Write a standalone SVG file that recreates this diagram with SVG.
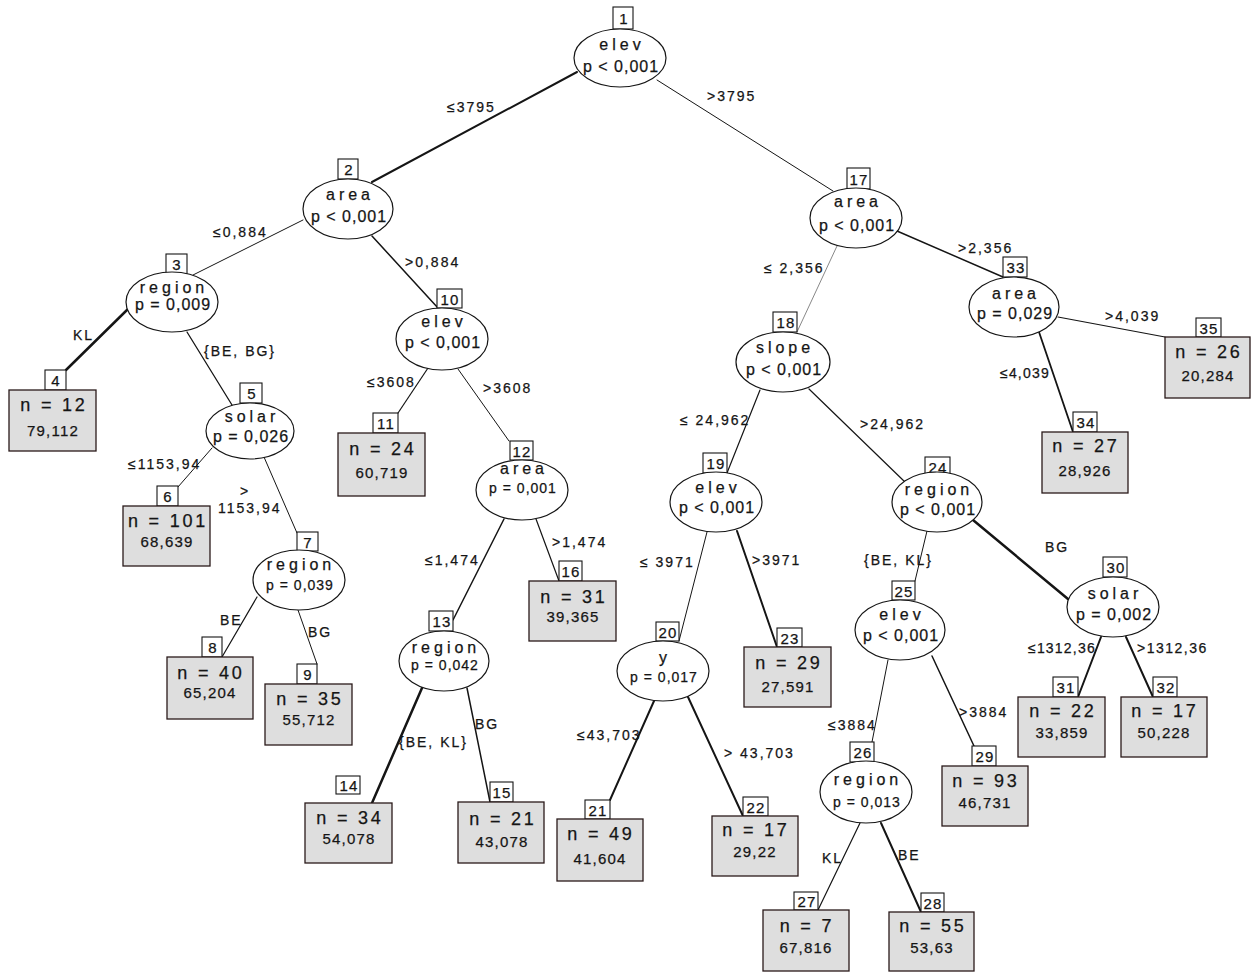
<svg xmlns="http://www.w3.org/2000/svg" width="1252" height="972" viewBox="0 0 1252 972">
<style>
text{font-family:"Liberation Sans",Arial,sans-serif;fill:#151515;stroke:#151515;stroke-width:0.25}
.nm{font-size:16px;letter-spacing:4px;text-anchor:middle}
.pv{font-size:16px;letter-spacing:1px;text-anchor:middle}
.pvs{font-size:14px;letter-spacing:1px;text-anchor:middle}
.id{font-size:15px;letter-spacing:1.2px;text-anchor:middle}
.tn{font-size:18px;letter-spacing:2.8px;text-anchor:middle}
.tv{font-size:15px;letter-spacing:1.2px;text-anchor:middle}
.lb{font-size:14px;letter-spacing:2px}
ellipse{fill:#fff;stroke:#151515;stroke-width:1.2}
.bx{fill:#fff;stroke:#151515;stroke-width:1.1}
.tm{fill:#dedede;stroke:#2a1a1a;stroke-width:1.3}
#edges line{stroke:#151515;stroke-linecap:round}
</style>
<rect width="1252" height="972" fill="#fff"/>
<g id="edges">
<line x1="577" y1="72" x2="372" y2="182" stroke-width="2"/>
<line x1="657" y1="80" x2="833" y2="191" stroke-width="1"/>
<line x1="303" y1="220" x2="193" y2="275" stroke-width="1"/>
<line x1="372" y1="236" x2="438" y2="308" stroke-width="1.5"/>
<line x1="128" y1="309" x2="66" y2="370" stroke-width="2.5"/>
<line x1="187" y1="332" x2="232" y2="405" stroke-width="1.3"/>
<line x1="212" y1="448" x2="178" y2="487" stroke-width="1"/>
<line x1="264" y1="457" x2="297" y2="533" stroke-width="1"/>
<line x1="257" y1="597" x2="222" y2="657" stroke-width="1.2"/>
<line x1="298" y1="610" x2="317" y2="664" stroke-width="1"/>
<line x1="428" y1="368" x2="398" y2="413" stroke-width="1.2"/>
<line x1="458" y1="369" x2="509" y2="441" stroke-width="1"/>
<line x1="504" y1="519" x2="453" y2="620" stroke-width="1.5"/>
<line x1="536" y1="519" x2="559" y2="581" stroke-width="1.2"/>
<line x1="422" y1="688" x2="372" y2="803" stroke-width="2.5"/>
<line x1="467" y1="688" x2="490" y2="802" stroke-width="1.5"/>
<line x1="837" y1="246" x2="797" y2="332" stroke-width="1" style="stroke:#888"/>
<line x1="897" y1="231" x2="1003" y2="277" stroke-width="1.5"/>
<line x1="760" y1="390" x2="727" y2="473" stroke-width="1.2"/>
<line x1="809" y1="389" x2="906" y2="483" stroke-width="1.2"/>
<line x1="707" y1="532" x2="679" y2="641" stroke-width="1"/>
<line x1="737" y1="531" x2="777" y2="647" stroke-width="2"/>
<line x1="654" y1="701" x2="610" y2="800" stroke-width="2"/>
<line x1="688" y1="697" x2="743" y2="816" stroke-width="2"/>
<line x1="927" y1="531" x2="915" y2="581" stroke-width="1"/>
<line x1="973" y1="520" x2="1068" y2="599" stroke-width="2.5"/>
<line x1="888" y1="660" x2="872" y2="742" stroke-width="1"/>
<line x1="932" y1="656" x2="974" y2="746" stroke-width="1.5"/>
<line x1="860" y1="823" x2="818" y2="910" stroke-width="1.2"/>
<line x1="881" y1="823" x2="921" y2="912" stroke-width="2"/>
<line x1="1101" y1="637" x2="1078" y2="697" stroke-width="2"/>
<line x1="1126" y1="637" x2="1153" y2="697" stroke-width="2"/>
<line x1="1039" y1="332" x2="1073" y2="432" stroke-width="1.8"/>
<line x1="1058" y1="317" x2="1165" y2="337" stroke-width="1.2"/>
</g>
<g id="edge-labels">
<text class="lb" x="447" y="112">≤3795</text>
<text class="lb" x="707" y="101">&gt;3795</text>
<text class="lb" x="213" y="237">≤0,884</text>
<text class="lb" x="405" y="267">&gt;0,884</text>
<text class="lb" x="73" y="340">KL</text>
<text class="lb" x="204" y="356">{BE, BG}</text>
<text class="lb" x="128" y="469">≤1153,94</text>
<text class="lb" x="240" y="496">&gt;</text>
<text class="lb" x="218" y="513">1153,94</text>
<text class="lb" x="220" y="625">BE</text>
<text class="lb" x="308" y="637">BG</text>
<text class="lb" x="367" y="387">≤3608</text>
<text class="lb" x="483" y="393">&gt;3608</text>
<text class="lb" x="425" y="565">≤1,474</text>
<text class="lb" x="552" y="547">&gt;1,474</text>
<text class="lb" x="399" y="747">{BE, KL}</text>
<text class="lb" x="475" y="729">BG</text>
<text class="lb" x="764" y="273">≤ 2,356</text>
<text class="lb" x="958" y="253">&gt;2,356</text>
<text class="lb" x="1105" y="321">&gt;4,039</text>
<text class="lb" x="1000" y="378" style="letter-spacing:1.2px">≤4,039</text>
<text class="lb" x="680" y="425">≤ 24,962</text>
<text class="lb" x="860" y="429">&gt;24,962</text>
<text class="lb" x="640" y="567">≤ 3971</text>
<text class="lb" x="752" y="565">&gt;3971</text>
<text class="lb" x="864" y="565">{BE, KL}</text>
<text class="lb" x="1045" y="552">BG</text>
<text class="lb" x="577" y="740">≤43,703</text>
<text class="lb" x="724" y="758">&gt; 43,703</text>
<text class="lb" x="1028" y="653" style="letter-spacing:1.2px">≤1312,36</text>
<text class="lb" x="1137" y="653" style="letter-spacing:1.5px">&gt;1312,36</text>
<text class="lb" x="828" y="730">≤3884</text>
<text class="lb" x="959" y="717">&gt;3884</text>
<text class="lb" x="822" y="863">KL</text>
<text class="lb" x="898" y="860">BE</text>
</g>
<g id="n1"><rect class="bx" x="613" y="7" width="20" height="22"/><text class="id" x="624" y="24">1</text><ellipse cx="620" cy="58" rx="46" ry="29"/><text class="nm" x="622" y="50">elev</text><text class="pv" x="621" y="72">p &lt; 0,001</text></g>
<g id="n2"><rect class="bx" x="338" y="159" width="20" height="20"/><text class="id" x="349" y="175">2</text><ellipse cx="348" cy="209" rx="45" ry="30"/><text class="nm" x="350" y="200">area</text><text class="pv" x="349" y="222">p &lt; 0,001</text></g>
<g id="n3"><rect class="bx" x="166" y="254" width="21" height="20"/><text class="id" x="177" y="270">3</text><ellipse cx="172" cy="302" rx="46" ry="30"/><text class="nm" x="174" y="293">region</text><text class="pv" x="173" y="310">p = 0,009</text></g>
<g id="n4"><rect class="bx" x="45" y="370" width="21" height="20"/><text class="id" x="56" y="386">4</text><rect class="tm" x="9" y="390" width="87" height="61"/><text class="tn" x="54" y="411">n = 12</text><text class="tv" x="53" y="436">79,112</text></g>
<g id="n5"><rect class="bx" x="240" y="383" width="22" height="20"/><text class="id" x="252" y="399">5</text><ellipse cx="250" cy="431" rx="44" ry="28"/><text class="nm" x="252" y="422">solar</text><text class="pv" x="251" y="442">p = 0,026</text></g>
<g id="n6"><rect class="bx" x="157" y="486" width="21" height="20"/><text class="id" x="168" y="502">6</text><rect class="tm" x="123" y="506" width="87" height="60"/><text class="tn" x="168" y="527">n = 101</text><text class="tv" x="167" y="547">68,639</text></g>
<g id="n7"><rect class="bx" x="297" y="532" width="21" height="19"/><text class="id" x="308" y="548">7</text><ellipse cx="299" cy="580" rx="46" ry="30"/><text class="nm" x="301" y="570">region</text><text class="pvs" x="300" y="590">p = 0,039</text></g>
<g id="n8"><rect class="bx" x="202" y="637" width="20" height="20"/><text class="id" x="213" y="653">8</text><rect class="tm" x="167" y="657" width="86" height="62"/><text class="tn" x="211" y="679">n = 40</text><text class="tv" x="210" y="698">65,204</text></g>
<g id="n9"><rect class="bx" x="297" y="664" width="20" height="20"/><text class="id" x="308" y="680">9</text><rect class="tm" x="265" y="684" width="87" height="61"/><text class="tn" x="310" y="705">n = 35</text><text class="tv" x="309" y="725">55,712</text></g>
<g id="n10"><rect class="bx" x="437" y="289" width="25" height="19"/><text class="id" x="450" y="305">10</text><ellipse cx="442" cy="339" rx="46" ry="31"/><text class="nm" x="444" y="327">elev</text><text class="pv" x="443" y="348">p &lt; 0,001</text></g>
<g id="n11"><rect class="bx" x="373" y="413" width="25" height="20"/><text class="id" x="386" y="429">11</text><rect class="tm" x="338" y="433" width="87" height="63"/><text class="tn" x="383" y="455">n = 24</text><text class="tv" x="382" y="478">60,719</text></g>
<g id="n12"><rect class="bx" x="510" y="441" width="23" height="19"/><text class="id" x="522" y="457">12</text><ellipse cx="522" cy="490" rx="46" ry="30"/><text class="nm" x="524" y="474">area</text><text class="pvs" x="523" y="493">p = 0,001</text></g>
<g id="n13"><rect class="bx" x="429" y="611" width="24" height="20"/><text class="id" x="442" y="627">13</text><ellipse cx="444" cy="661" rx="45" ry="30"/><text class="nm" x="446" y="653">region</text><text class="pvs" x="445" y="670">p = 0,042</text></g>
<g id="n14"><rect class="bx" x="336" y="776" width="24" height="18"/><text class="id" x="349" y="791">14</text><rect class="tm" x="305" y="803" width="87" height="60"/><text class="tn" x="350" y="824">n = 34</text><text class="tv" x="349" y="844">54,078</text></g>
<g id="n15"><rect class="bx" x="490" y="782" width="23" height="20"/><text class="id" x="502" y="798">15</text><rect class="tm" x="458" y="802" width="86" height="61"/><text class="tn" x="503" y="825">n = 21</text><text class="tv" x="502" y="847">43,078</text></g>
<g id="n16"><rect class="bx" x="559" y="561" width="23" height="20"/><text class="id" x="571" y="577">16</text><rect class="tm" x="529" y="581" width="87" height="60"/><text class="tn" x="574" y="603">n = 31</text><text class="tv" x="573" y="622">39,365</text></g>
<g id="n17"><rect class="bx" x="847" y="168" width="23" height="21"/><text class="id" x="859" y="185">17</text><ellipse cx="856" cy="218" rx="46" ry="30"/><text class="nm" x="858" y="207">area</text><text class="pv" x="857" y="231">p &lt; 0,001</text></g>
<g id="n18"><rect class="bx" x="773" y="312" width="24" height="20"/><text class="id" x="786" y="328">18</text><ellipse cx="783" cy="362" rx="47" ry="30"/><text class="nm" x="785" y="353">slope</text><text class="pv" x="784" y="375">p &lt; 0,001</text></g>
<g id="n19"><rect class="bx" x="703" y="453" width="24" height="20"/><text class="id" x="716" y="469">19</text><ellipse cx="716" cy="502" rx="46" ry="30"/><text class="nm" x="718" y="493">elev</text><text class="pv" x="717" y="513">p &lt; 0,001</text></g>
<g id="n20"><rect class="bx" x="656" y="622" width="23" height="19"/><text class="id" x="668" y="638">20</text><ellipse cx="663" cy="671" rx="46" ry="30"/><text class="nm" x="665" y="663">y</text><text class="pvs" x="664" y="682">p = 0,017</text></g>
<g id="n21"><rect class="bx" x="585" y="800" width="25" height="19"/><text class="id" x="598" y="816">21</text><rect class="tm" x="557" y="819" width="86" height="62"/><text class="tn" x="601" y="840">n = 49</text><text class="tv" x="600" y="864">41,604</text></g>
<g id="n22"><rect class="bx" x="743" y="797" width="25" height="19"/><text class="id" x="756" y="813">22</text><rect class="tm" x="712" y="816" width="86" height="60"/><text class="tn" x="756" y="836">n = 17</text><text class="tv" x="755" y="857">29,22</text></g>
<g id="n23"><rect class="bx" x="777" y="628" width="25" height="19"/><text class="id" x="790" y="644">23</text><rect class="tm" x="744" y="647" width="87" height="60"/><text class="tn" x="789" y="669">n = 29</text><text class="tv" x="788" y="692">27,591</text></g>
<g id="n24"><rect class="bx" x="925" y="457" width="25" height="20"/><text class="id" x="938" y="473">24</text><ellipse cx="937" cy="502" rx="45" ry="30"/><text class="nm" x="939" y="495">region</text><text class="pv" x="938" y="515">p &lt; 0,001</text></g>
<g id="n25"><rect class="bx" x="892" y="581" width="23" height="19"/><text class="id" x="904" y="597">25</text><ellipse cx="900" cy="630" rx="45" ry="30"/><text class="nm" x="902" y="620">elev</text><text class="pv" x="901" y="641">p &lt; 0,001</text></g>
<g id="n26"><rect class="bx" x="850" y="742" width="24" height="20"/><text class="id" x="863" y="758">26</text><ellipse cx="866" cy="792" rx="46" ry="31"/><text class="nm" x="868" y="785">region</text><text class="pvs" x="867" y="807">p = 0,013</text></g>
<g id="n27"><rect class="bx" x="794" y="892" width="24" height="18"/><text class="id" x="807" y="907">27</text><rect class="tm" x="763" y="910" width="86" height="61"/><text class="tn" x="807" y="932">n = 7</text><text class="tv" x="806" y="953">67,816</text></g>
<g id="n28"><rect class="bx" x="921" y="893" width="23" height="19"/><text class="id" x="933" y="909">28</text><rect class="tm" x="889" y="912" width="85" height="59"/><text class="tn" x="933" y="932">n = 55</text><text class="tv" x="932" y="953">53,63</text></g>
<g id="n29"><rect class="bx" x="972" y="746" width="24" height="20"/><text class="id" x="985" y="762">29</text><rect class="tm" x="942" y="766" width="86" height="60"/><text class="tn" x="986" y="787">n = 93</text><text class="tv" x="985" y="808">46,731</text></g>
<g id="n30"><rect class="bx" x="1103" y="557" width="24" height="20"/><text class="id" x="1116" y="573">30</text><ellipse cx="1113" cy="607" rx="46" ry="30"/><text class="nm" x="1115" y="599">solar</text><text class="pv" x="1114" y="620">p = 0,002</text></g>
<g id="n31"><rect class="bx" x="1053" y="677" width="25" height="20"/><text class="id" x="1066" y="693">31</text><rect class="tm" x="1018" y="697" width="87" height="60"/><text class="tn" x="1063" y="717">n = 22</text><text class="tv" x="1062" y="738">33,859</text></g>
<g id="n32"><rect class="bx" x="1153" y="677" width="24" height="20"/><text class="id" x="1166" y="693">32</text><rect class="tm" x="1121" y="697" width="86" height="60"/><text class="tn" x="1165" y="717">n = 17</text><text class="tv" x="1164" y="738">50,228</text></g>
<g id="n33"><rect class="bx" x="1003" y="257" width="24" height="20"/><text class="id" x="1016" y="273">33</text><ellipse cx="1014" cy="307" rx="45" ry="30"/><text class="nm" x="1016" y="299">area</text><text class="pv" x="1015" y="319">p = 0,029</text></g>
<g id="n34"><rect class="bx" x="1073" y="412" width="24" height="20"/><text class="id" x="1086" y="428">34</text><rect class="tm" x="1042" y="432" width="86" height="61"/><text class="tn" x="1086" y="452">n = 27</text><text class="tv" x="1085" y="476">28,926</text></g>
<g id="n35"><rect class="bx" x="1196" y="318" width="25" height="19"/><text class="id" x="1209" y="334">35</text><rect class="tm" x="1165" y="337" width="85" height="61"/><text class="tn" x="1209" y="358">n = 26</text><text class="tv" x="1208" y="381">20,284</text></g>
</svg>
